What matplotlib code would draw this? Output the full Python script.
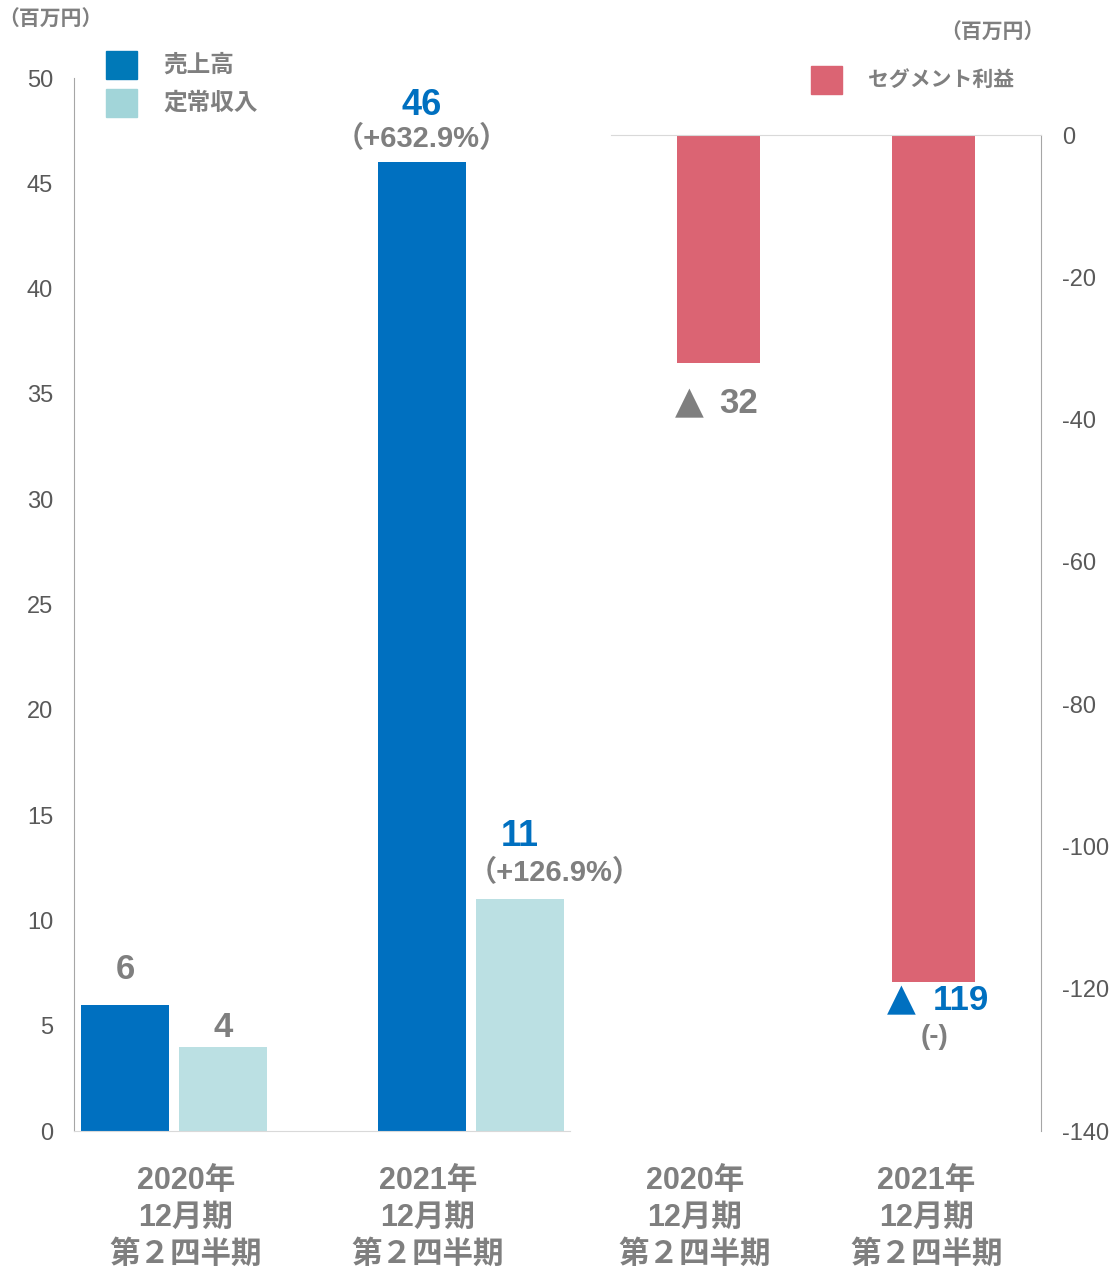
import matplotlib.pyplot as plt
from matplotlib.patches import Rectangle

plt.rcParams['font.family'] = ['Liberation Sans', 'Noto Sans CJK JP', 'DejaVu Sans']
plt.rcParams['axes.unicode_minus'] = False

# データ（百万円）
periods = ['2020年\n12月期\n第２四半期', '2021年\n12月期\n第２四半期']
uriage = [6, 46]
teijo = [4, 11]
segment = [-32, -119]
uriage_rate = ['', '（+632.9%）']
teijo_rate = ['', '（+126.9%）']
seg_rate = ['', '(-)']

blue = '#0070C0'
light = '#BBE0E3'
red = '#DB6473'
gray = '#7F7F7F'
tickgray = '#595959'

fig = plt.figure(figsize=(11.11, 12.68), dpi=100)

# 左：売上高・定常収入
ax1 = fig.add_axes([0.0666, 0.108, 0.4464, 0.8304])
x = [0, 1]
w = 0.296
ax1.bar([i - 0.165 for i in x], uriage, width=w, color=blue)
ax1.bar([i + 0.165 for i in x], teijo, width=w, color=light)
ax1.set_xlim(-0.337, 1.333)
ax1.set_ylim(0, 50)
ax1.set_yticks(range(0, 51, 5))
ax1.tick_params(axis='y', length=0, pad=15, labelsize=17, labelcolor=tickgray)
ax1.set_xticks([0.04, 0.855])
ax1.set_xticklabels(periods, fontsize=22, fontweight='bold', color=gray, linespacing=1.3)
ax1.tick_params(axis='x', length=0, pad=25)
for s in ['top', 'right']:
    ax1.spines[s].set_visible(False)
ax1.spines['left'].set_color('#A6A6A6')
ax1.spines['bottom'].set_color('#D9D9D9')

# 値ラベル
ax1.annotate(str(uriage[0]), (0 - 0.165, uriage[0]), xytext=(0, 25), textcoords='offset points',
             ha='center', va='center', fontsize=25, fontweight='bold', color=gray)
ax1.annotate(str(teijo[0]), (0 + 0.165, teijo[0]), xytext=(0, 14), textcoords='offset points',
             ha='center', va='center', fontsize=25, fontweight='bold', color=gray)
ax1.annotate(str(uriage[1]), (1 - 0.165, uriage[1]), xytext=(0, 41), textcoords='offset points',
             ha='center', va='center', fontsize=26, fontweight='bold', color=blue)
ax1.annotate(uriage_rate[1], (1 - 0.165, uriage[1]), xytext=(0, 17), textcoords='offset points',
             ha='center', va='center', fontsize=21, fontweight='bold', color=gray)
ax1.annotate(str(teijo[1]), (1 + 0.165, teijo[1]), xytext=(0, 45), textcoords='offset points',
             ha='center', va='center', fontsize=26, fontweight='bold', color=blue)
ax1.annotate(teijo_rate[1], (1 + 0.165, teijo[1]), xytext=(25, 19), textcoords='offset points',
             ha='center', va='center', fontsize=21, fontweight='bold', color=gray,
             annotation_clip=False, zorder=10)

# 右：セグメント利益
ax2 = fig.add_axes([0.55, 0.108, 0.387, 0.7855])
ax2.patch.set_visible(False)
ax2.bar(x, segment, width=0.39, color=red)
ax2.set_xlim(-0.5, 1.5)
ax2.set_ylim(-140, 0)
ax2.set_yticks(range(-140, 1, 20))
ax2.yaxis.tick_right()
ax2.tick_params(axis='y', length=0, pad=15, labelsize=17, labelcolor=tickgray)
ax2.set_xticks([-0.11, 0.967])
ax2.set_xticklabels(periods, fontsize=22, fontweight='bold', color=gray, linespacing=1.3)
ax2.tick_params(axis='x', length=0, pad=25)
for s in ['left', 'bottom']:
    ax2.spines[s].set_visible(False)
ax2.spines['right'].set_color('#A6A6A6')
ax2.spines['top'].set_color('#D9D9D9')

# ▲ は赤字を表す
seg_colors = [gray, blue]
tri_dx = [-21, -23]
num_dx = [14.5, 19.5]
dy = [-29.5, -13.7]
for i, v in enumerate(segment):
    ax2.annotate('▲', (i, v), xytext=(tri_dx[i], dy[i]), textcoords='offset points',
                 ha='center', va='center', fontsize=27, color=seg_colors[i], family='DejaVu Sans')
    ax2.annotate(str(-v), (i, v), xytext=(num_dx[i], dy[i]), textcoords='offset points',
                 ha='center', va='center', fontsize=25, fontweight='bold', color=seg_colors[i])
ax2.annotate(seg_rate[1], (1, segment[1]), xytext=(1, -39.6), textcoords='offset points',
             ha='center', va='center', fontsize=20, fontweight='bold', color=gray)

# 単位
fig.text(50 / 1111, 1 - 20 / 1268, '（百万円）', ha='center', va='center',
         fontsize=15, fontweight='bold', color=gray)
fig.text(992 / 1111, 1 - 33 / 1268, '（百万円）', ha='center', va='center',
         fontsize=15, fontweight='bold', color=gray)

# 凡例
def legend_item(px, py, color, label, size):
    fig.add_artist(Rectangle((px / 1111, 1 - (py + 14) / 1268), 31 / 1111, 28 / 1268,
                             transform=fig.transFigure, color=color))
    fig.text((px + 57) / 1111, 1 - py / 1268, label, ha='left', va='center',
             fontsize=size, fontweight='bold', color=gray)

legend_item(106, 65, '#0079B8', '売上高', 17)
legend_item(106, 103, '#A2D5D9', '定常収入', 17)
legend_item(811, 80, red, 'セグメント利益', 15)

fig.savefig('out.png', dpi=100)
